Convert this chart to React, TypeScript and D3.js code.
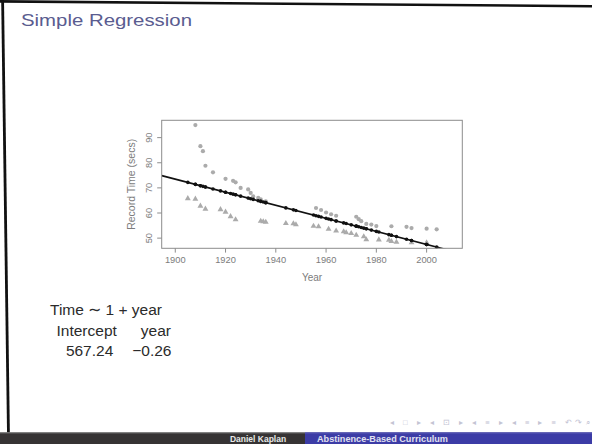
import React from "react";
import * as d3 from "d3";

// 100 m freestyle world records
const menYears = [1905, 1908, 1910, 1912, 1918, 1920, 1922, 1924, 1934, 1935, 1936, 1944, 1947, 1948, 1955, 1957, 1961, 1964, 1967, 1968, 1970, 1972, 1975, 1976, 1981, 1985, 1986, 1988, 1994, 2000, 2000];
const menTimes = [65.8, 65.6, 62.8, 61.6, 61.4, 60.4, 58.6, 57.4, 56.8, 56.6, 56.4, 55.9, 55.8, 55.4, 54.8, 54.6, 53.6, 52.9, 52.6, 52.2, 51.9, 51.22, 50.59, 49.44, 49.36, 49.24, 48.74, 48.42, 48.21, 48.18, 47.84];
const womenYears = [1908, 1910, 1911, 1912, 1915, 1920, 1923, 1924, 1926, 1929, 1930, 1931, 1933, 1934, 1936, 1956, 1958, 1960, 1962, 1964, 1972, 1973, 1974, 1976, 1978, 1980, 1986, 1992, 1994, 2000, 2004];
const womenTimes = [95.0, 86.6, 84.6, 78.8, 76.2, 73.6, 72.8, 72.2, 70.0, 69.4, 68.0, 66.6, 66.0, 65.4, 64.6, 62.0, 61.2, 60.2, 59.5, 58.9, 58.5, 57.54, 56.76, 55.65, 55.41, 54.79, 54.73, 54.48, 54.01, 53.77, 53.52];

const xTicks = [1900, 1920, 1940, 1960, 1980, 2000];
const yTicks = [50, 60, 70, 80, 90];

// coefficients as printed on the slide
const coefNames = ["Intercept", "year"];
const coefValues = ["567.24", "\u22120.26"];

const men = menYears.map((y, i) => ({ year: y, time: menTimes[i] }));
const women = womenYears.map((y, i) => ({ year: y, time: womenTimes[i] }));
const all = [...men, ...women];

// least squares fit time ~ 1 + year
const mx = d3.mean(all, (d) => d.year) as number;
const my = d3.mean(all, (d) => d.time) as number;
const slope =
  (d3.sum(all, (d) => (d.year - mx) * (d.time - my)) as number) /
  (d3.sum(all, (d) => (d.year - mx) ** 2) as number);
const intercept = my - slope * mx;

const font = "'Liberation Sans', Arial, sans-serif";

const App = () => {
  const plot = { left: 161.7, right: 462.3, top: 120.3, bottom: 248.3 };
  const x = d3.scaleLinear().domain([1894.6, 2014.2]).range([plot.left, plot.right]);
  const y = d3.scaleLinear().domain([45.95, 96.9]).range([plot.bottom, plot.top]);
  const tri = d3.symbol(d3.symbolTriangle, 15)();
  const gray = "#ababab";
  const xd = x.domain();

  return (
    <svg
      width={592}
      height={444}
      style={{ position: "fixed", left: 0, top: 0, background: "#fff" }}
      fontFamily={font}
    >
      {/* slide frame */}
      <line x1={0} y1={1.4} x2={592} y2={6.2} stroke="#111" strokeWidth={2.6} />
      <line x1={2.6} y1={0} x2={8.6} y2={444} stroke="#111" strokeWidth={2.8} />

      <text x={21} y={25.5} fontSize={17} fill="#5a5c90" textLength={171} lengthAdjust="spacingAndGlyphs">
        Simple Regression
      </text>

      {/* plot */}
      <defs>
        <clipPath id="plotclip">
          <rect x={plot.left} y={plot.top} width={plot.right - plot.left} height={plot.bottom - plot.top} />
        </clipPath>
      </defs>

      {women.map((d, i) => (
        <circle key={"w" + i} cx={x(d.year)} cy={y(d.time)} r={2.1} fill={gray} />
      ))}
      {men.map((d, i) => (
        <path key={"m" + i} d={tri as string} transform={`translate(${x(d.year)},${y(d.time)})`} fill={gray} />
      ))}
      <g clipPath="url(#plotclip)">
        <line
          x1={x(xd[0])}
          y1={y(intercept + slope * xd[0])}
          x2={x(xd[1])}
          y2={y(intercept + slope * xd[1])}
          stroke="#111"
          strokeWidth={1.6}
        />
      </g>
      {all.map((d, i) => (
        <circle key={"f" + i} cx={x(d.year)} cy={y(intercept + slope * d.year)} r={1.8} fill="#111" />
      ))}

      <rect
        x={plot.left}
        y={plot.top}
        width={plot.right - plot.left}
        height={plot.bottom - plot.top}
        fill="none"
        stroke="#8c8c8c"
        strokeWidth={1}
      />

      {xTicks.map((t) => (
        <g key={t} transform={`translate(${x(t)},${plot.bottom})`}>
          <line y2={4.3} stroke="#8c8c8c" />
          <text y={14.3} textAnchor="middle" fontSize={9.3} fill="#7c7c7c">
            {t}
          </text>
        </g>
      ))}
      {yTicks.map((t) => (
        <g key={t} transform={`translate(${plot.left},${y(t)})`}>
          <line x2={-4.5} stroke="#8c8c8c" />
          <text transform="translate(-9.4,0) rotate(-90)" textAnchor="middle" fontSize={9.3} fill="#7c7c7c">
            {t}
          </text>
        </g>
      ))}
      <text x={(plot.left + plot.right) / 2} y={281} textAnchor="middle" fontSize={10} fill="#7c7c7c">
        Year
      </text>
      <text
        transform={`translate(135.3,${(plot.top + plot.bottom) / 2}) rotate(-90)`}
        textAnchor="middle"
        fontSize={10.5}
        fill="#7c7c7c"
      >
        Record Time (secs)
      </text>

      {/* model output */}
      <g fontSize={15.5} fill="#2b2b2b">
        <text x={50} y={315}>Time ∼ 1 + year</text>
        <text x={56.5} y={335.5}>{coefNames[0]}</text>
        <text x={171} y={335.5} textAnchor="end">{coefNames[1]}</text>
        <text x={113.3} y={356} textAnchor="end">{coefValues[0]}</text>
        <text x={171.5} y={356} textAnchor="end">{coefValues[1]}</text>
      </g>

      {/* footer */}
      <text x={390} y={424.5} fontSize={7.5} fill="#c4c4d4" textLength={200} lengthAdjust="spacing">
        ◂ □ ▸ ◂ ⊡ ▸ ◂ ≡ ▸ ◂ ≡ ▸   ≡   ↶↷⌕
      </text>
      <rect x={0} y={432.3} width={592} height={12} fill="#363334" />
      <rect x={0} y={432.3} width={592} height={1} fill="#8a8a8a" />
      <rect x={305} y={432.3} width={287} height={12} fill="#3c3ca6" />
      <rect x={305} y={432.3} width={287} height={1} fill="#7070c0" />
      <text x={258} y={442.3} textAnchor="middle" fontSize={8.5} fontWeight="bold" fill="#e8e8e8">
        Daniel Kaplan
      </text>
      <text x={317} y={442.3} fontSize={8.5} fontWeight="bold" fill="#e0e0f0" textLength={131} lengthAdjust="spacingAndGlyphs">
        Abstinence-Based Curriculum
      </text>
    </svg>
  );
};

export default App;
